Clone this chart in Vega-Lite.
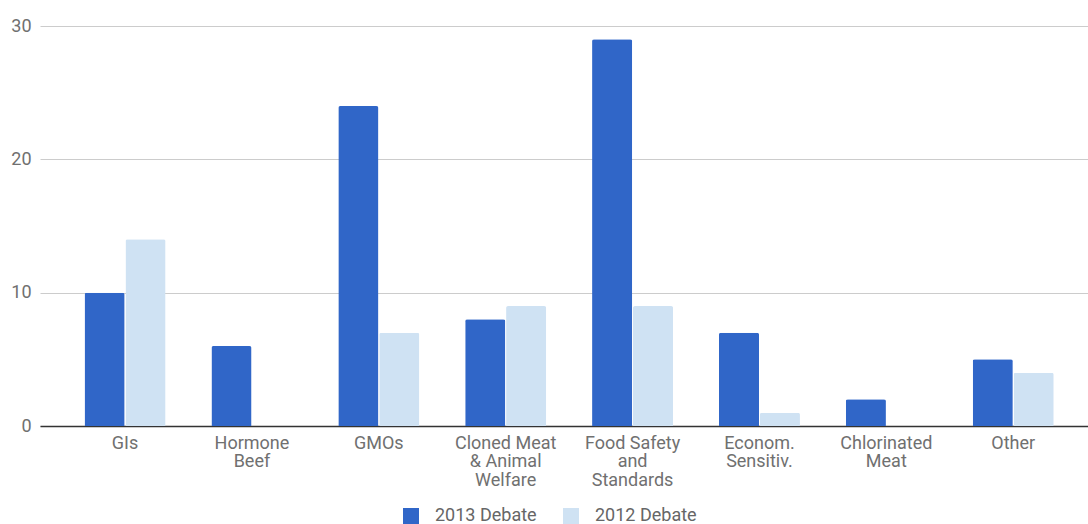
{
  "$schema": "https://vega.github.io/schema/vega-lite/v6.json",
  "width": 1048,
  "height": 400,
  "autosize": {"type": "none"},
  "padding": {"left": 40, "top": 26, "right": 0, "bottom": 98},
  "background": "#ffffff",
  "config": {
    "view": {"stroke": null},
    "font": "Roboto"
  },
  "data": {
    "values": [
      {"topic": "GIs", "series": "2013 Debate", "count": 10},
      {"topic": "GIs", "series": "2012 Debate", "count": 14},
      {"topic": "Hormone|Beef", "series": "2013 Debate", "count": 6},
      {"topic": "Hormone|Beef", "series": "2012 Debate", "count": 0},
      {"topic": "GMOs", "series": "2013 Debate", "count": 24},
      {"topic": "GMOs", "series": "2012 Debate", "count": 7},
      {"topic": "Cloned Meat|& Animal|Welfare", "series": "2013 Debate", "count": 8},
      {"topic": "Cloned Meat|& Animal|Welfare", "series": "2012 Debate", "count": 9},
      {"topic": "Food Safety|and|Standards", "series": "2013 Debate", "count": 29},
      {"topic": "Food Safety|and|Standards", "series": "2012 Debate", "count": 9},
      {"topic": "Econom.|Sensitiv.", "series": "2013 Debate", "count": 7},
      {"topic": "Econom.|Sensitiv.", "series": "2012 Debate", "count": 1},
      {"topic": "Chlorinated|Meat", "series": "2013 Debate", "count": 2},
      {"topic": "Chlorinated|Meat", "series": "2012 Debate", "count": 0},
      {"topic": "Other", "series": "2013 Debate", "count": 5},
      {"topic": "Other", "series": "2012 Debate", "count": 4}
    ]
  },
  "mark": {"type": "bar", "cornerRadiusTopLeft": 2, "cornerRadiusTopRight": 2},
  "encoding": {
    "x": {
      "field": "topic",
      "type": "nominal",
      "sort": null,
      "scale": {"paddingInner": 0.3615, "paddingOuter": 0.3106, "align": 0.565},
      "axis": {
        "title": null,
        "labelAngle": 0,
        "labelExpr": "split(datum.label, '|')",
        "labelFontSize": 18,
        "labelColor": "#707070",
        "labelLineHeight": 18.5,
        "labelPadding": 8,
        "ticks": false,
        "domainColor": "#333333",
        "domainWidth": 1.5,
        "grid": false
      }
    },
    "xOffset": {
      "field": "series",
      "type": "nominal",
      "scale": {"domain": ["2013 Debate", "2012 Debate"], "paddingInner": 0.02}
    },
    "y": {
      "field": "count",
      "type": "quantitative",
      "scale": {"domain": [0, 30]},
      "axis": {
        "title": null,
        "values": [0, 10, 20, 30],
        "labelFontSize": 18,
        "labelColor": "#707070",
        "labelPadding": 9,
        "ticks": false,
        "domain": false,
        "gridColor": "#cccccc",
        "gridWidth": 1
      }
    },
    "color": {
      "field": "series",
      "type": "nominal",
      "scale": {"domain": ["2013 Debate", "2012 Debate"], "range": ["#3066c8", "#cfe2f3"]},
      "legend": {
        "title": null,
        "orient": "none",
        "direction": "horizontal",
        "legendX": 362,
        "legendY": 481,
        "symbolType": "square",
        "symbolSize": 256,
        "symbolStrokeWidth": 0,
        "labelFontSize": 18,
        "labelColor": "#666666",
        "labelOffset": 15,
        "columnPadding": 25
      }
    }
  }
}
